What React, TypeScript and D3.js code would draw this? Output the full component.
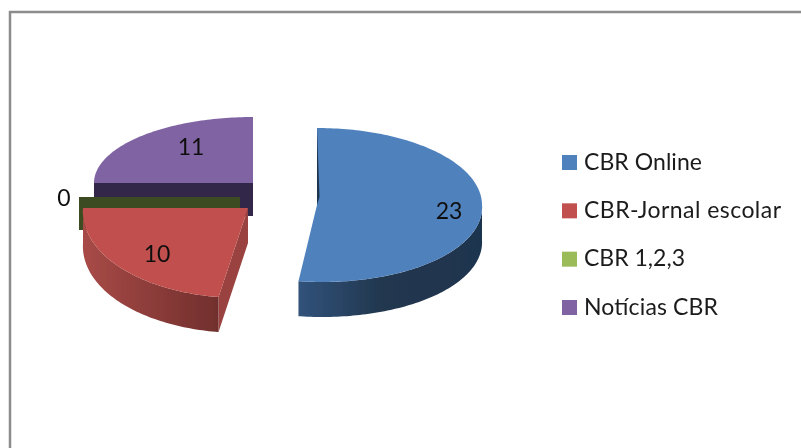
import * as d3 from "d3";

const categories = ["CBR Online", "CBR-Jornal escolar", "CBR 1,2,3", "Notícias CBR"];
const values = [23, 10, 0, 11];
const colors = ["#4f81bd", "#c0504d", "#9bbb59", "#8064a2"];

const width = 801;
const height = 448;
const FONT = "Lato, 'Open Sans', sans-serif";

// each slice is exploded on its own, so each has its own ellipse.
// shear leans the front half of the ellipse, a stand-in for the 3D perspective
const sliceGeom = [
  { cx: 317, cy: 205, rx: 165, ry: 77, depth: 35, shear: 0.065 },
  { cx: 248, cy: 208, rx: 165, ry: 90, depth: 35, shear: -0.067 },
  { cx: 240, cy: 197, rx: 161, ry: 70, depth: 33, shear: 0 },
  { cx: 253, cy: 183, rx: 159, ry: 66, depth: 33, shear: 0 },
];

const labelPos = [
  { x: 449, y: 219 },
  { x: 157, y: 262 },
  { x: 64, y: 206 },
  { x: 191, y: 155 },
];

const legendTextWidth = [118, 197, 101, 134];

const pie = d3.pie<number>().sort(null).value((d) => d);
const arcs = pie(values);

const legendY = d3.scalePoint<string>()
  .domain(categories)
  .range([162.5, 307.5]);

function onRim(g: (typeof sliceGeom)[number], a: number, drop = 0): [number, number] {
  const dy = -g.ry * Math.cos(a);
  const lean = dy > 0 ? g.shear * dy : 0;
  return [g.cx + g.rx * Math.sin(a) + lean, g.cy + dy + drop];
}

function sampleAngles(from: number, to: number) {
  return d3.range(from, to, 0.02).concat(to);
}

function topFace(i: number) {
  const g = sliceGeom[i];
  const a = arcs[i];
  const rim = sampleAngles(a.startAngle, a.endAngle).map((t) => onRim(g, t));
  return d3.line()([[g.cx, g.cy], ...rim]) + "Z";
}

// outer rim side, only the part of the arc that faces the viewer
function rimSide(i: number) {
  const g = sliceGeom[i];
  const a = arcs[i];
  const from = Math.max(a.startAngle, Math.PI / 2);
  const to = Math.min(a.endAngle, (3 * Math.PI) / 2);
  const angles = sampleAngles(from, to);
  const upper = angles.map((t) => onRim(g, t));
  const lower = angles.slice().reverse().map((t) => onRim(g, t, g.depth));
  return d3.line()([...upper, ...lower]) + "Z";
}

// flat cut wall running from the apex out to the rim at angle a
function cutWall(i: number, a: number) {
  const g = sliceGeom[i];
  const p = onRim(g, a);
  return d3.line()([
    [g.cx, g.cy],
    p,
    [p[0], p[1] + g.depth],
    [g.cx, g.cy + g.depth],
  ]) + "Z";
}

// the blue wall is seen almost edge on, just a dark sliver
function blueSliver() {
  const g = sliceGeom[0];
  return d3.line()([
    onRim(g, arcs[0].startAngle),
    [g.cx, g.cy],
    [g.cx + 2.5, g.cy - 8],
  ]) + "Z";
}

export default function App() {
  return (
    <div style={{ position: "absolute", left: 0, top: 0 }}>
      <svg width={width} height={height} style={{ display: "block", background: "#fff" }}>
        <defs>
          <linearGradient id="blueSide" x1="0" x2="1" y1="0" y2="0">
            <stop offset="0" stopColor="#31527b" />
            <stop offset="0.45" stopColor="#22374f" />
            <stop offset="1" stopColor="#1f3450" />
          </linearGradient>
          <linearGradient id="redSide" x1="0" x2="1" y1="0" y2="0">
            <stop offset="0" stopColor="#a84a47" />
            <stop offset="1" stopColor="#712f2d" />
          </linearGradient>
          <filter id="soft" x="0" y="0" width="100%" height="100%">
            <feGaussianBlur stdDeviation="0.45" />
          </filter>
        </defs>

        <g filter="url(#soft)">
          <rect width={width} height={height} fill="#fff" />

          {/* frame, cut off by the right and bottom of the picture */}
          <path d={`M10 ${height + 5}V12H${width + 5}`} fill="none" stroke="#8c8c8c" strokeWidth={2.5} />

          {/* Notícias CBR */}
          <path d={cutWall(3, arcs[3].startAngle)} fill="#33264a" />
          <path d={topFace(3)} fill={colors[3]} />

          {/* CBR 1,2,3 has no area, only its wall shows */}
          <path d={cutWall(2, arcs[2].startAngle)} fill="#3e4b22" />

          {/* CBR-Jornal escolar */}
          <path d={cutWall(1, arcs[1].startAngle)} fill="#9a4340" />
          <path d={rimSide(1)} fill="url(#redSide)" />
          <path d={topFace(1)} fill={colors[1]} />

          {/* CBR Online */}
          <path d={rimSide(0)} fill="url(#blueSide)" />
          <path d={topFace(0)} fill={colors[0]} />
          <path d={blueSliver()} fill="#1f3450" />

          {values.map((v, i) => (
            <text key={i} x={labelPos[i].x} y={labelPos[i].y} textAnchor="middle"
              fontFamily={FONT} fontSize={23} fill="#111">{v}</text>
          ))}

          {categories.map((c, i) => {
            const y = legendY(c) as number;
            return (
              <g key={c}>
                <rect x={562} y={y - 7.5} width={15} height={15} fill={colors[i]} />
                <text x={584} y={y + 7} fontFamily={FONT} fontSize={23} fill="#1a1a1a"
                  textLength={legendTextWidth[i]} lengthAdjust="spacing">{c}</text>
              </g>
            );
          })}
        </g>
      </svg>
    </div>
  );
}
